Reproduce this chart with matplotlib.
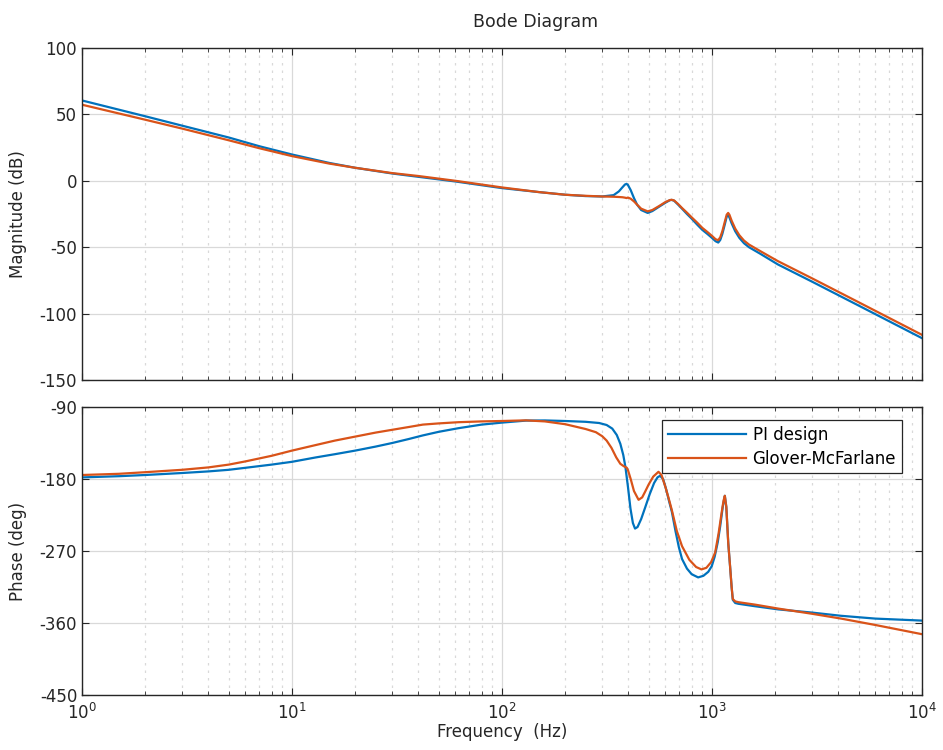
import matplotlib.pyplot as plt
from matplotlib.ticker import LogLocator, NullFormatter

plt.rcParams['font.family'] = ['DejaVu Sans']
plt.rcParams['axes.unicode_minus'] = False

# magnitude (dB)
f_mag = [1, 2, 3, 5, 7, 10, 15, 20, 30, 40, 60, 100, 150, 200, 250, 300, 340, 360,
         375, 385, 392, 398, 410, 425, 440, 460, 494, 520, 560, 600, 630, 643, 660,
         690, 720, 760, 800, 850, 900, 950, 1000, 1040, 1071, 1095, 1120, 1150, 1175,
         1194, 1210, 1240, 1290, 1350, 1420, 1500, 1700, 2060, 3000, 5000, 10000]
mag_pi = [60.5, 48.6, 41.5, 32.6, 26.0, 19.8, 13.5, 9.8, 5.5, 3.0, -0.5, -5.5, -8.5,
          -10.5, -11.5, -11.8, -10.8, -8.0, -4.8, -2.8, -2.3, -3.2, -7.0, -13.0, -18.0,
          -22.0, -24.2, -22.8, -19.5, -16.5, -14.6, -14.4, -15.0, -18.0, -21.0, -25.0,
          -28.5, -33.0, -37.0, -40.0, -43.0, -45.5, -46.5, -44.5, -40.0, -33.0, -27.0,
          -26.0, -27.5, -32.0, -38.0, -43.0, -47.0, -50.0, -55.0, -63.0, -76.0, -94.0,
          -118.5]
mag_gm = [57.3, 46.0, 39.3, 30.5, 24.5, 18.6, 13.0, 9.8, 5.8, 3.6, 0.0, -5.0, -8.5,
          -10.5, -11.3, -11.8, -12.0, -12.2, -12.4, -12.7, -13.0, -12.6, -13.5, -15.5,
          -18.0, -21.0, -23.0, -22.0, -19.0, -16.0, -14.5, -14.3, -14.8, -17.5, -20.5,
          -24.0, -27.5, -31.5, -35.5, -38.5, -41.5, -44.0, -44.7, -42.5, -38.0, -31.0,
          -25.5, -24.2, -25.5, -30.0, -36.0, -41.0, -45.0, -48.0, -53.0, -60.5, -73.5,
          -91.5, -116.0]

# phase (deg)
f_ph_pi = [1, 1.5, 2, 3, 4, 5, 6, 8, 10, 13, 16, 20, 25, 30, 36, 42, 50, 62, 80, 100,
           130, 160, 200, 250, 290, 315, 335, 352, 366, 378, 387, 398, 409, 420, 430,
           442, 460, 480, 505, 530, 550, 566, 585, 605, 625, 644, 670, 695, 720, 760,
           800, 859, 910, 960, 997, 1030, 1065, 1094, 1125, 1151, 1170, 1195, 1219,
           1240, 1256, 1290, 1337, 1600, 2070, 3000, 4120, 6000, 10000]
ph_pi = [-178, -176.5, -175, -172.5, -170.5, -168.5, -166, -162, -158.5, -153, -149,
         -144.5, -139.5, -135, -130, -125.5, -121, -116.5, -112, -109.5, -107, -106.8,
         -107.5, -108.5, -110, -112.5, -117, -125, -136, -150, -165, -190, -217, -235,
         -242, -240, -230, -216, -199, -185, -178, -176, -180, -193, -208, -221, -245,
         -265, -280, -292, -299, -303, -301, -296, -289, -277, -259, -239, -215, -201,
         -215, -260, -289, -315, -331, -335, -336, -339, -343, -347, -351, -354.5, -357]
f_ph_gm = [1, 1.5, 2, 3, 4, 5, 6, 8, 10, 13, 16, 20, 25, 30, 36, 42, 50, 62, 80, 100,
           130, 160, 200, 250, 280, 300, 315, 332, 350, 366, 380, 387, 393, 398, 410,
           425, 447, 465, 480, 499, 525, 556, 575, 600, 620, 644, 680, 720, 780, 840,
           891, 940, 990, 1035, 1075, 1113, 1135, 1151, 1170, 1195, 1219, 1240, 1256,
           1290, 1337, 1600, 2070, 3000, 4120, 6000, 10000]
ph_gm = [-175, -173.5, -171.5, -168.5, -165.5, -162, -158, -151, -144.5, -137.5, -132,
         -127, -122, -118.5, -115, -112, -110.5, -109, -108, -107.5, -106.7, -108,
         -111.5, -117.5, -121.5, -126.5, -132, -141, -153, -161, -164, -165, -166,
         -169, -180, -195, -206, -203, -196, -187, -177, -171, -175, -190, -203, -219,
         -245, -264, -281, -290, -293, -291, -284, -272, -248, -221, -207, -201, -215,
         -260, -289, -315, -330, -333, -334, -337, -342, -348.5, -354.5, -362.5, -374]

blue = '#0072BD'
orange = '#D95319'

fig = plt.figure(figsize=(9.43, 7.5), dpi=100)
ax1 = fig.add_axes([82/943, 1 - 380/750, 840/943, 332/750])
ax2 = fig.add_axes([82/943, 1 - 695/750, 840/943, 288/750])

ax1.semilogx(f_mag, mag_pi, color=blue, lw=1.6)
ax1.semilogx(f_mag, mag_gm, color=orange, lw=1.6)
ax2.semilogx(f_ph_pi, ph_pi, color=blue, lw=1.6, label='PI design')
ax2.semilogx(f_ph_gm, ph_gm, color=orange, lw=1.6, label='Glover-McFarlane')

ax1.set_ylim(-150, 100)
ax1.set_yticks([-150, -100, -50, 0, 50, 100])
ax2.set_ylim(-450, -90)
ax2.set_yticks([-450, -360, -270, -180, -90])

for ax in (ax1, ax2):
    ax.set_xlim(1, 1e4)
    ax.xaxis.set_major_locator(LogLocator(base=10, numticks=10))
    ax.xaxis.set_minor_locator(LogLocator(base=10, subs=range(2, 10), numticks=10))
    ax.xaxis.set_minor_formatter(NullFormatter())
    ax.grid(True, which='major', color='#d9d9d9', lw=0.9)
    ax.grid(True, which='minor', axis='x', color='#d9d9d9', lw=0.9, ls=(0, (2, 4)))
    ax.tick_params(which='both', direction='in', top=True, right=True,
                   labelsize=12, colors='#262626')
    ax.tick_params(which='major', length=5)
    ax.tick_params(which='minor', length=3)
    ax.tick_params(axis='x', pad=6)
    for s in ax.spines.values():
        s.set_color('#262626')
        s.set_linewidth(1.0)
    ax.set_axisbelow(True)

ax1.tick_params(labelbottom=False)

ax1.set_ylabel('Magnitude (dB)', fontsize=12, color='#262626')
ax2.set_ylabel('Phase (deg)', fontsize=12, color='#262626')
ax1.yaxis.set_label_coords(-0.066, 0.5)
ax2.yaxis.set_label_coords(-0.066, 0.5)
ax2.set_xlabel('Frequency  (Hz)', fontsize=12, color='#262626', labelpad=0)

fig.text(536/943, 1 - 22/750, 'Bode Diagram', ha='center', va='center',
         fontsize=12.5, color='#262626')

leg = ax2.legend(loc='upper right', bbox_to_anchor=(0.976, 0.955), fontsize=12,
                 fancybox=False, framealpha=1, edgecolor='#262626',
                 handlelength=4.7, borderpad=0.35, labelspacing=0.35,
                 handletextpad=0.4, borderaxespad=0)
leg.get_frame().set_linewidth(0.9)

plt.savefig('out.png', dpi=100)
